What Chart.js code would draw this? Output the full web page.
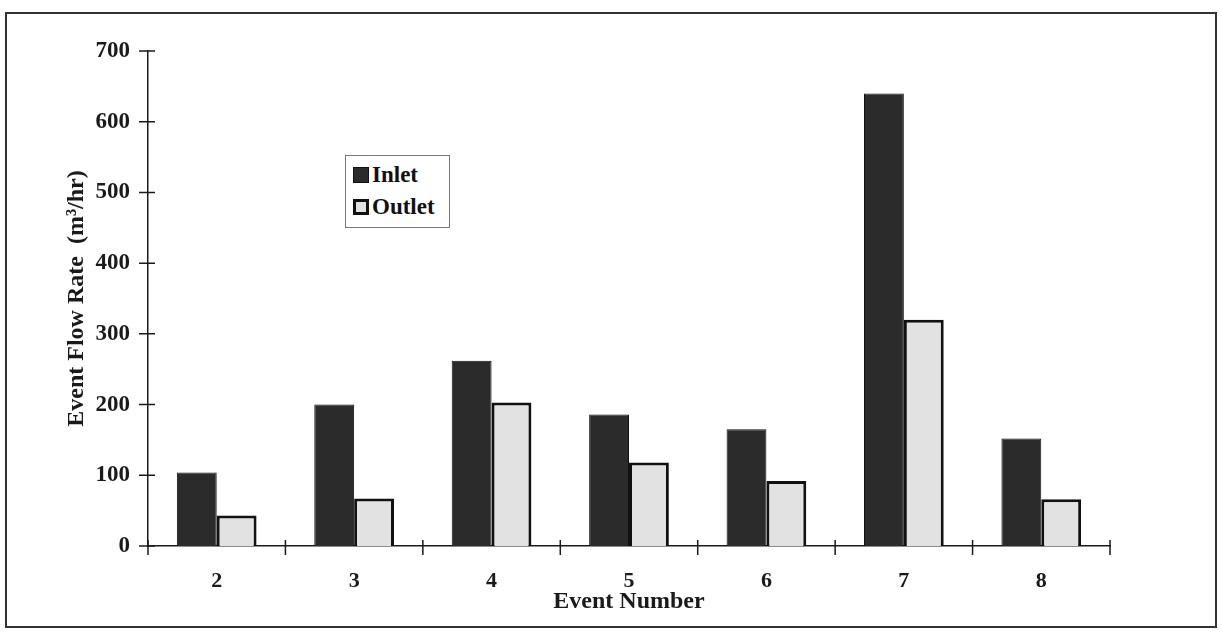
<!DOCTYPE html>
<html>
<head>
<meta charset="utf-8">
<script src="https://cdn.jsdelivr.net/npm/chart.js@4/dist/chart.umd.min.js"></script>
<style>
  html, body { margin: 0; padding: 0; background: #fff; }
  #wrap { position: relative; width: 1222px; height: 634px; }
  #legend {
    position: absolute; left: 345px; top: 155px; width: 105px; height: 73px;
    border: 1px solid #777; background: #fff; box-sizing: border-box;
    font-family: "Liberation Serif", "DejaVu Serif", serif; font-weight: bold; font-size: 23px; color: #111;
    padding: 3px 0 0 7px;
  }
  #legend div { display: flex; align-items: center; height: 32px; }
  #legend span.sw { display: inline-block; width: 16px; height: 16px; margin-right: 3px; box-sizing: border-box; }
</style>
</head>
<body>
<div id="wrap">
  <canvas id="chart" width="1222" height="634"></canvas>
  <div id="legend"></div>
</div>
<script>
// chart values
const events = ['2', '3', '4', '5', '6', '7', '8'];
const inletFlow = [104, 200, 262, 186, 165, 640, 152];
const outletFlow = [43, 67, 203, 118, 92, 320, 66];
const yTicks = [0, 100, 200, 300, 400, 500, 600, 700];

const serif = '"Liberation Serif", "DejaVu Serif", serif';
const ink = '#1a1a1a';

// page frame + ticks that cross the axis lines
const framePlugin = {
    id: 'frame',
    beforeDraw(chart) {
        const ctx = chart.ctx;
        ctx.save();
        ctx.fillStyle = '#fff';
        ctx.fillRect(0, 0, chart.width, chart.height);
        ctx.strokeStyle = '#333';
        ctx.lineWidth = 2;
        ctx.strokeRect(6, 13, 1210, 614);
        ctx.restore();
    },
    afterDraw(chart) {
        const ctx = chart.ctx;
        const x = chart.scales.x, y = chart.scales.y;
        ctx.save();
        ctx.strokeStyle = ink;
        ctx.lineWidth = 1.5;
        ctx.beginPath();
        // y axis ticks
        y.ticks.forEach((t, i) => {
            const py = y.getPixelForTick(i);
            ctx.moveTo(y.right - 9, py);
            ctx.lineTo(y.right + 7, py);
        });
        // x axis ticks on category borders
        for (let i = 0; i <= events.length; i++) {
            const px = x.left + (x.right - x.left) * i / events.length;
            ctx.moveTo(px, x.top - 6);
            ctx.lineTo(px, x.top + 9);
        }
        ctx.stroke();
        ctx.restore();
    }
};

const ctx = document.getElementById('chart').getContext('2d');
const chart = new Chart(ctx, {
    type: 'bar',
    data: {
        labels: events,
        datasets: [{
            label: 'Inlet',
            data: inletFlow,
            backgroundColor: '#2b2b2b',
            borderColor: '#111',
            borderWidth: 1,
            categoryPercentage: 0.58,
            barPercentage: 1
        }, {
            label: 'Outlet',
            data: outletFlow,
            backgroundColor: '#e2e2e2',
            borderColor: '#111',
            borderWidth: 3,
            categoryPercentage: 0.58,
            barPercentage: 1
        }]
    },
    options: {
        responsive: false,
        animation: false,
        layout: {
            padding: { top: 51, right: 112, bottom: 14, left: 58 }
        },
        scales: {
            x: {
                grid: { display: false, drawTicks: false },
                border: { display: true, color: ink, width: 1.5 },
                ticks: {
                    color: ink,
                    padding: 22,
                    font: { family: serif, weight: 'bold', size: 22 }
                },
                title: {
                    display: true,
                    text: 'Event Number',
                    color: ink,
                    padding: { top: 0 },
                    font: { family: serif, weight: 'bold', size: 24 }
                },
                afterFit(scale) { scale.height = 74; }
            },
            y: {
                min: 0,
                max: 700,
                afterBuildTicks(scale) {
                    scale.ticks = yTicks.map(v => ({ value: v }));
                },
                grid: { display: false, drawTicks: false },
                border: { display: true, color: ink, width: 1.5 },
                ticks: {
                    color: ink,
                    padding: 18,
                    font: { family: serif, weight: 'bold', size: 23 }
                },
                title: {
                    display: true,
                    text: 'Event Flow Rate  (m³/hr)',
                    color: ink,
                    padding: { bottom: 8 },
                    font: { family: serif, weight: 'bold', size: 24 }
                },
                afterFit(scale) { scale.width = 90; }
            }
        },
        plugins: {
            legend: { display: false },
            tooltip: { enabled: false }
        }
    },
    plugins: [framePlugin]
});

// legend built from the datasets
const legendEl = document.getElementById('legend');
chart.data.datasets.forEach((ds, i) => {
    const row = document.createElement('div');
    const sw = document.createElement('span');
    sw.className = 'sw';
    sw.style.background = ds.backgroundColor;
    sw.style.border = i === 0 ? '1px solid #111' : '3px solid #111';
    row.appendChild(sw);
    row.appendChild(document.createTextNode(ds.label));
    legendEl.appendChild(row);
});
</script>
</body>
</html>
